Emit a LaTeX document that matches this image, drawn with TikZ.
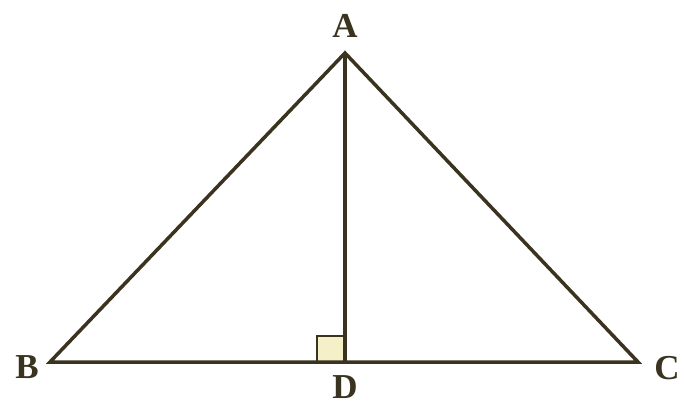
\documentclass[tikz,border=0pt]{standalone}
\usepackage{fontspec}
\setmainfont{Liberation Serif}
\definecolor{ln}{HTML}{3A3320}
\definecolor{sq}{HTML}{F6F0C8}
\begin{document}
\begin{tikzpicture}[x=1pt,y=-1pt,
  edge/.style={draw=ln,line width=3.5pt,line join=miter},
  lbl/.style={text=ln,font=\fontsize{35}{35}\selectfont\bfseries,inner sep=0pt}]
\useasboundingbox (0,0) rectangle (684,406);
\coordinate (A) at (345,53);
\coordinate (B) at (50,362);
\coordinate (C) at (638,362);
\coordinate (D) at (345,362);
\coordinate (S1) at (317,362);
\coordinate (S2) at (317,336);
\coordinate (S3) at (345,336);
\fill[sq] (S1) -- (S2) -- (S3) -- (D) -- cycle;
\draw[edge,line width=2.8pt] (S1) -- (S2) -- (S3);
\draw[edge] (B) -- (C) -- (A) -- cycle;
\draw[edge] (A) -- (D);
\node[lbl] (LA) at (345,26) {A};
\node[lbl] (LB) at (27,367) {B};
\node[lbl] (LC) at (667,368) {C};
\node[lbl] (LD) at (345,387) {D};
\end{tikzpicture}
\end{document}
